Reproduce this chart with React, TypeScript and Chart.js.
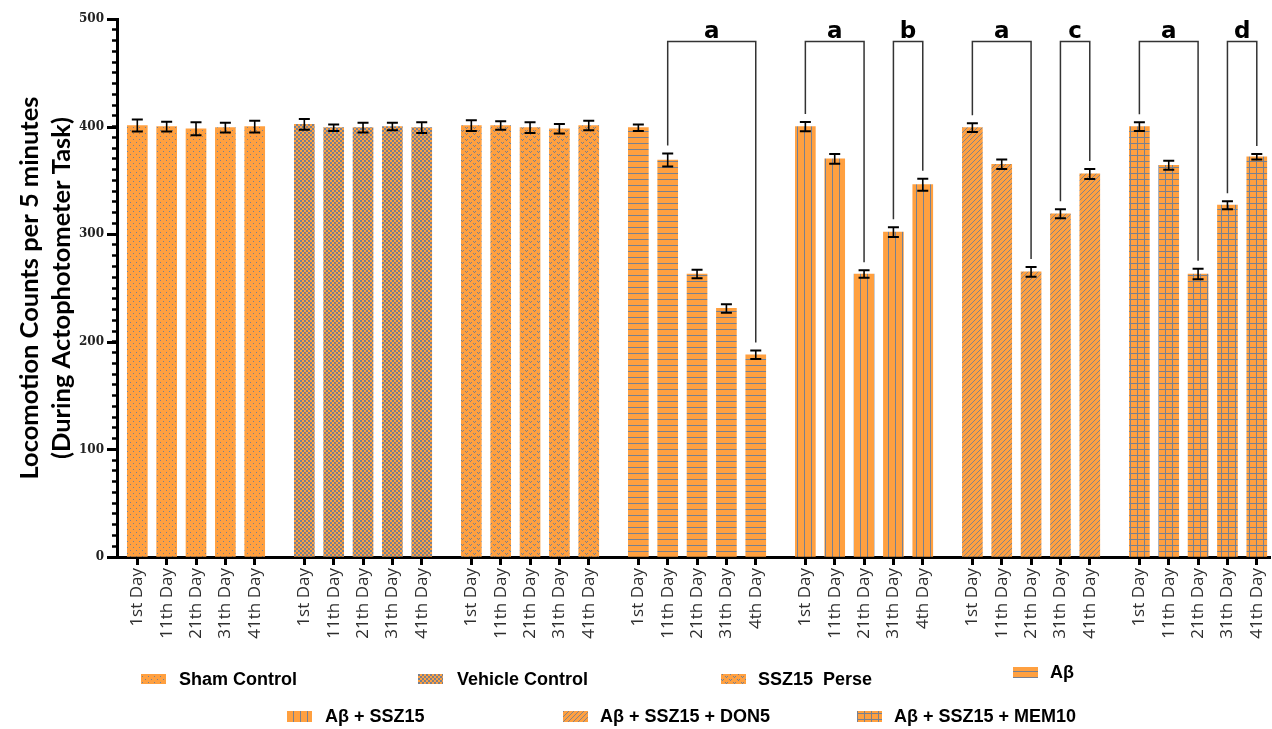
import React, { useEffect, useRef } from 'react';
import { Chart, registerables } from 'chart.js';

Chart.register(...registerables);

// ---------- DATA ----------
const groupNames = [
  'Sham Control',
  'Vehicle Control',
  'SSZ15  Perse',
  'Aβ',
  'Aβ + SSZ15',
  'Aβ + SSZ15 + DON5',
  'Aβ + SSZ15 + MEM10',
];

const dayLabels = ['1st Day', '11th Day', '21th Day', '31th Day', '41th Day'];
const dayLabelsAlt = ['1st Day', '11th Day', '21th Day', '31th Day', '4th Day'];

const xTickLabels = [
  ...dayLabels,
  ...dayLabels,
  ...dayLabels,
  ...dayLabelsAlt,
  ...dayLabelsAlt,
  ...dayLabels,
  ...dayLabels,
];

const shamValues = [401, 400, 398, 399, 400];
const shamErrors = [5.5, 4.5, 6, 4.5, 5.5];
const vehicleValues = [402, 399, 399, 400, 399];
const vehicleErrors = [5, 3, 4.5, 3.5, 5];
const ssz15Values = [401, 401, 399, 398, 401];
const ssz15Errors = [5, 4, 5, 4.5, 4.5];
const abetaValues = [399, 369, 263, 231, 188];
const abetaErrors = [3, 6, 4, 4, 4];
const abSszValues = [400, 370, 263, 302, 346];
const abSszErrors = [4.3, 4.5, 3.5, 4.5, 5.6];
const don5Values = [399, 365, 265, 319, 356];
const don5Errors = [4, 4.5, 4.5, 4.2, 4.6];
const mem10Values = [400, 364, 263, 327, 372];
const mem10Errors = [4, 4.2, 4.8, 3.7, 2.6];

const allValues = [shamValues, vehicleValues, ssz15Values, abetaValues, abSszValues, don5Values, mem10Values];
const allErrors = [shamErrors, vehicleErrors, ssz15Errors, abetaErrors, abSszErrors, don5Errors, mem10Errors];

const yTickStep = 10;
const yMajorStep = 100;
const yMin = 0;
const yMax = 500;

// significance brackets: group index, first bar, second bar, letter
const bracketGroups = [3, 4, 4, 5, 5, 6, 6];
const bracketFrom = [1, 0, 3, 0, 3, 0, 3];
const bracketTo = [4, 2, 4, 2, 4, 2, 4];
const bracketLetters = ['a', 'a', 'b', 'a', 'c', 'a', 'd'];
const bracketLevel = 479;

// ---------- LAYOUT / STYLE ----------
const W = 1272;
const H = 729;
const GROUP_STRIDE = 5.69;
const X_MIN = -0.692;
const X_MAX = 38.59;
const ORANGE = '#FFA040';
const MARK = '#78808f';
const patternKinds = ['dots', 'checker', 'bow', 'hlines', 'vlines', 'diag', 'grid'];

// legend layout: swatch x, swatch y, swatch h, text x, text y
const legendSwatchX = [141, 418, 721, 1013, 287, 563, 857];
const legendSwatchY = [674, 674, 674, 667, 711, 711, 711];
const legendSwatchH = [10, 10, 10, 11, 11, 11, 11];
const legendTextX = [179, 457, 758, 1050, 325, 600, 894];
const legendTextY = [680, 680, 680, 673, 717, 717, 717];

function barX(g: number, i: number) {
  return g * GROUP_STRIDE + i;
}

function makePattern(kind: string): CanvasPattern {
  const c = document.createElement('canvas');
  let w = 6;
  let h = 6;
  if (kind === 'checker') { w = 4; h = 4; }
  if (kind === 'diag') { w = 5; h = 5; }
  if (kind === 'vlines' || kind === 'grid') { w = 7; h = 6; }
  if (kind === 'bow') { w = 8; h = 6; }
  c.width = w;
  c.height = h;
  const g = c.getContext('2d')!;
  g.fillStyle = ORANGE;
  g.fillRect(0, 0, w, h);
  g.fillStyle = MARK;
  g.strokeStyle = MARK;
  switch (kind) {
    case 'dots':
      g.fillRect(1, 1, 1, 1);
      g.fillRect(4, 4, 1, 1);
      break;
    case 'checker':
      g.fillRect(0, 0, 2, 2);
      g.fillRect(2, 2, 2, 2);
      break;
    case 'bow':
      g.fillRect(1, 1, 1, 1);
      g.fillRect(3, 1, 1, 1);
      g.fillRect(2, 2, 1, 1);
      g.fillRect(5, 4, 1, 1);
      g.fillRect(7, 4, 1, 1);
      g.fillRect(6, 5, 1, 1);
      break;
    case 'hlines':
      g.fillRect(0, 5, w, 1);
      break;
    case 'vlines':
      g.fillRect(6, 0, 1, h);
      break;
    case 'diag':
      g.lineWidth = 0.9;
      for (const k of [-5, 0, 5]) {
        g.beginPath();
        g.moveTo(k, 5);
        g.lineTo(k + 5, 0);
        g.stroke();
      }
      break;
    case 'grid':
      g.fillRect(3, 0, 1, h);
      g.fillRect(0, 5, w, 1);
      break;
  }
  return g.createPattern(c, 'repeat')!;
}

export default function App() {
  const ref = useRef<HTMLCanvasElement | null>(null);

  useEffect(() => {
    document.body.style.margin = '0';
    document.body.style.background = '#fff';
    const canvas = ref.current!;
    const patterns = patternKinds.map(makePattern);

    const xPositions: number[] = [];
    for (let g = 0; g < 7; g++) for (let i = 0; i < 5; i++) xPositions.push(barX(g, i));

    const datasets = groupNames.map((name, g) => ({
      label: name,
      data: allValues[g].map((v, i) => ({ x: barX(g, i), y: v })),
      backgroundColor: patterns[g],
      borderWidth: 0,
      barThickness: 20,
      grouped: false,
    }));

    const overlay = {
      id: 'overlay',
      afterDatasetsDraw(chart: any) {
        const ctx = chart.ctx;
        const xs = chart.scales.x;
        const ys = chart.scales.y;
        ctx.save();
        // error bars
        ctx.strokeStyle = '#000';
        for (let g = 0; g < 7; g++) {
          for (let i = 0; i < 5; i++) {
            const px = xs.getPixelForValue(barX(g, i));
            const v = allValues[g][i];
            const e = allErrors[g][i];
            const yTop = ys.getPixelForValue(v + e);
            const yBot = ys.getPixelForValue(v - e);
            ctx.lineWidth = 1.6;
            ctx.beginPath();
            ctx.moveTo(px, yTop);
            ctx.lineTo(px, yBot);
            ctx.stroke();
            ctx.lineWidth = 2;
            ctx.beginPath();
            ctx.moveTo(px - 5.5, yTop);
            ctx.lineTo(px + 5.5, yTop);
            ctx.moveTo(px - 5.5, yBot);
            ctx.lineTo(px + 5.5, yBot);
            ctx.stroke();
          }
        }
        // brackets
        const yb = ys.getPixelForValue(bracketLevel);
        ctx.strokeStyle = '#333';
        ctx.lineWidth = 1.5;
        ctx.fillStyle = '#000';
        ctx.font = 'bold 23px "DejaVu Sans"';
        ctx.textAlign = 'center';
        ctx.textBaseline = 'alphabetic';
        for (let k = 0; k < bracketGroups.length; k++) {
          const g = bracketGroups[k];
          const a = bracketFrom[k];
          const b = bracketTo[k];
          const x1 = xs.getPixelForValue(barX(g, a));
          const x2 = xs.getPixelForValue(barX(g, b));
          const y1 = ys.getPixelForValue(allValues[g][a] + allErrors[g][a]) - 8;
          const y2 = ys.getPixelForValue(allValues[g][b] + allErrors[g][b]) - 8;
          ctx.beginPath();
          ctx.moveTo(x1, y1);
          ctx.lineTo(x1, yb);
          ctx.lineTo(x2, yb);
          ctx.lineTo(x2, y2);
          ctx.stroke();
          ctx.fillText(bracketLetters[k], (x1 + x2) / 2, yb - 4);
        }
        ctx.restore();
      },
      afterDraw(chart: any) {
        const ctx = chart.ctx;
        const ys = chart.scales.y;
        const area = chart.chartArea;
        ctx.save();
        // longer major ticks
        ctx.strokeStyle = '#000';
        ctx.lineWidth = 3;
        for (let v = yMin; v <= yMax; v += yMajorStep) {
          const py = Math.round(ys.getPixelForValue(v)) + 0.5;
          ctx.beginPath();
          ctx.moveTo(area.left - 10, py);
          ctx.lineTo(area.left, py);
          ctx.stroke();
        }
        // y axis title (two lines)
        const lines = ['Locomotion Counts per 5 minutes', '(During Actophotometer Task)'];
        ctx.font = 'bold 20px Lato';
        const w0 = ctx.measureText(lines[0]).width;
        const size = (20 * 383) / w0;
        ctx.font = `bold ${size.toFixed(2)}px Lato`;
        ctx.fillStyle = '#000';
        ctx.textAlign = 'center';
        ctx.textBaseline = 'middle';
        const cy = (area.top + area.bottom) / 2;
        const cxs = [30, 62];
        lines.forEach((t, i) => {
          ctx.save();
          ctx.translate(cxs[i], cy);
          ctx.rotate(-Math.PI / 2);
          ctx.fillText(t, 0, 0);
          ctx.restore();
        });
        // legend
        ctx.font = 'bold 18px "Liberation Sans"';
        ctx.textAlign = 'left';
        ctx.textBaseline = 'middle';
        groupNames.forEach((name, g) => {
          ctx.fillStyle = patterns[g];
          ctx.fillRect(legendSwatchX[g], legendSwatchY[g], 25, legendSwatchH[g]);
          ctx.fillStyle = '#000';
          ctx.fillText(name, legendTextX[g], legendTextY[g]);
        });
        ctx.restore();
      },
    };

    const chart = new Chart(canvas, {
      type: 'bar',
      data: { datasets: datasets as any },
      options: {
        animation: false,
        responsive: false,
        devicePixelRatio: 1,
        layout: { padding: { top: 19, right: 2, left: 0, bottom: 0 } },
        plugins: {
          legend: { display: false },
          tooltip: { enabled: false },
          title: { display: false },
        },
        scales: {
          x: {
            type: 'linear',
            min: X_MIN,
            max: X_MAX,
            offset: false,
            afterBuildTicks: (s: any) => {
              s.ticks = xPositions.map((v) => ({ value: v }));
            },
            afterFit: (s: any) => {
              s.height = H - 557;
              s.paddingLeft = 0;
              s.paddingRight = 0;
            },
            ticks: {
              autoSkip: false,
              minRotation: 90,
              maxRotation: 90,
              padding: 3,
              color: '#2e2e2e',
              font: { family: 'Open Sans', size: 17 },
              callback: (_v: any, i: number) => xTickLabels[i],
            },
            grid: {
              display: true,
              offset: false,
              drawOnChartArea: false,
              drawTicks: true,
              tickLength: 8,
              tickWidth: 3,
              tickColor: '#000',
            },
            border: { display: true, color: '#000', width: 3 },
          },
          y: {
            min: yMin,
            max: yMax,
            afterFit: (s: any) => {
              s.width = 117;
              s.paddingTop = 0;
              s.paddingBottom = 0;
            },
            ticks: {
              stepSize: yTickStep,
              autoSkip: false,
              padding: 8,
              color: '#222',
              font: { family: 'DejaVu Serif', weight: 'bold', size: 12 },
              callback: (v: any) => (Number(v) % yMajorStep === 0 ? String(v) : ''),
            },
            grid: {
              display: true,
              drawOnChartArea: false,
              drawTicks: true,
              tickLength: 5,
              tickWidth: 2.5,
              tickColor: '#000',
            },
            border: { display: true, color: '#000', width: 3 },
          },
        },
      },
      plugins: [overlay],
    });

    return () => chart.destroy();
  }, []);

  return (
    <div style={{ width: W, height: H, background: '#fff' }}>
      <canvas ref={ref} width={W} height={H} style={{ display: 'block' }} />
    </div>
  );
}
